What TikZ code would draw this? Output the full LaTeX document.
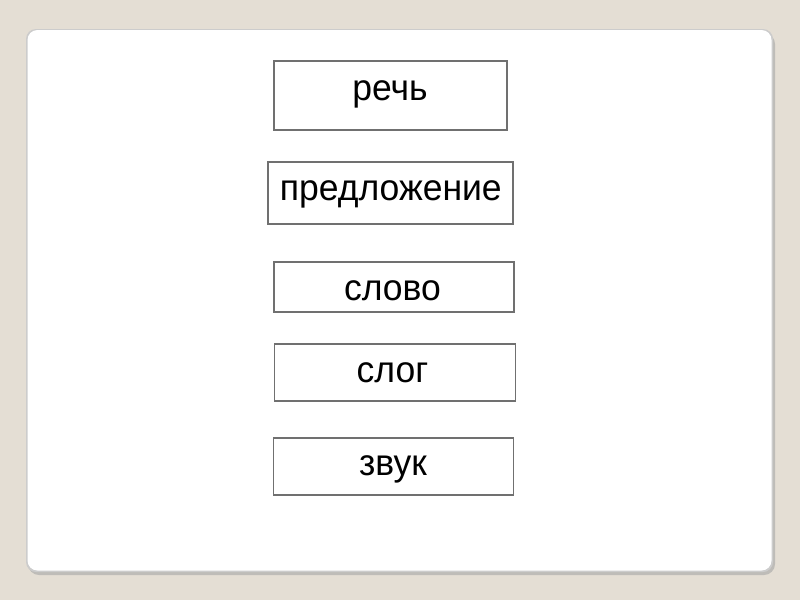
\documentclass[tikz,border=0pt]{standalone}
\usepackage{fontspec}
\setmainfont{Liberation Sans}
\definecolor{bgc}{RGB}{228,222,212}
\definecolor{boxline}{RGB}{112,112,112}
\newcommand{\wtxt}[2]{\kern#1pt\scalebox{1}[1.04]{#2}}
\begin{document}
\begin{tikzpicture}[x=1pt,y=-1pt,
  wordbox/.style={draw=boxline,line width=1.3pt,fill=white,inner sep=0pt,
    text depth=0pt,font=\fontsize{35.5}{40}\selectfont,text=black}]
\fill[bgc] (0,0) rectangle (800,600);
\useasboundingbox (0,0) rectangle (800,600);
% panel shadow
\fill[black!35,opacity=0.6,rounded corners=11pt] (28,33) rectangle (775,575);
\fill[black!20,rounded corners=10pt] (26,29) rectangle (773,572);
\fill[white,rounded corners=10pt] (27.5,30) rectangle (771.5,570.5);
% boxes
\node[wordbox,minimum width=233pt,minimum height=69pt,text height=10.4pt] (rech) at (390.5,95.5) {\wtxt{-1}{речь}};
\node[wordbox,minimum width=245pt,minimum height=62pt,text height=15.4pt] (pred) at (390.5,193) {\wtxt{0.6}{предложение}};
\node[wordbox,minimum width=240pt,minimum height=50pt,text height=27.4pt] (slovo) at (394,287) {\wtxt{-3}{слово}};
\node[wordbox,minimum width=241pt,minimum height=57pt,text height=19.6pt] (slog) at (395,372.5) {\wtxt{-5}{слог}};
\node[wordbox,minimum width=240pt,minimum height=57pt,text height=17pt] (zvuk) at (393.5,466.5) {\wtxt{-1}{звук}};
\end{tikzpicture}
\end{document}
